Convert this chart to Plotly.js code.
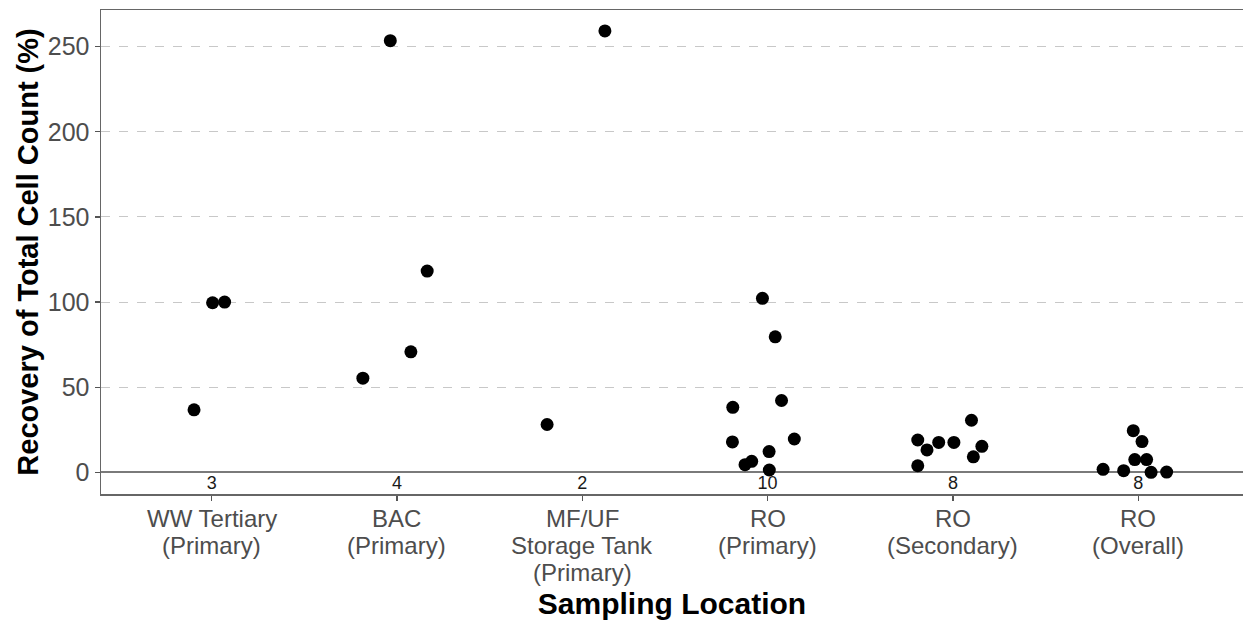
<!DOCTYPE html>
<html>
<head>
<meta charset="utf-8">
<script src="https://cdn.plot.ly/plotly-3.0.1.min.js"></script>
<style>html,body{margin:0;padding:0;background:#fff;}#chart{width:1243px;height:621px;}</style>
</head>
<body>
<div id="chart"></div>
<script>
// Category labels (x axis); "|" separates label lines
var categories = ["WW Tertiary|(Primary)", "BAC|(Primary)", "MF/UF|Storage Tank|(Primary)", "RO|(Primary)", "RO|(Secondary)", "RO|(Overall)"];
// Sample counts shown under each group
var counts = ["3", "4", "2", "10", "8", "8"];
// Y tick values
var yTicks = [0, 50, 100, 150, 200, 250];

// Recovery values (%) per group
var wwTertiary = [36.7, 99.6, 100.0];
var bac = [55.3, 70.8, 118.2, 253.5];
var mfuf = [28.1, 259.2];
var roPrimary = [102.2, 79.6, 42.2, 38.2, 17.9, 19.6, 12.2, 6.5, 4.5, 1.4];
var roSecondary = [19.0, 13.2, 17.6, 17.6, 30.6, 15.3, 9.1, 3.9];
var roOverall = [24.5, 18.1, 7.5, 7.5, 1.8, 1.0, 0.0, 0.2];

// Horizontal jitter of each point (category units)
var jWw = [-0.095, 0.005, 0.07];
var jBac = [-0.184, 0.075, 0.163, -0.036];
var jMfuf = [-0.19, 0.122];
var jRoP = [-0.028, 0.041, 0.075, -0.188, -0.19, 0.144, 0.008, -0.086, -0.122, 0.009];
var jRoS = [-0.19, -0.14, -0.077, 0.005, 0.10, 0.156, 0.11, -0.19];
var jRoO = [-0.027, 0.02, -0.019, 0.045, -0.19, -0.079, 0.069, 0.153];

var countY = -7.2;

var groups = [wwTertiary, bac, mfuf, roPrimary, roSecondary, roOverall];
var jitters = [jWw, jBac, jMfuf, jRoP, jRoS, jRoO];

var xs = [], ys = [];
groups.forEach(function (vals, gi) {
  vals.forEach(function (v, k) {
    xs.push(gi + jitters[gi][k]);
    ys.push(v);
  });
});

var catIdx = categories.map(function (c, i) { return i; });
var FONT = 'Liberation Sans, Arial, sans-serif';

var traces = [
  {
    type: 'scatter', mode: 'markers', x: xs, y: ys,
    marker: {color: '#000000', size: 13, line: {width: 0}},
    hoverinfo: 'y', showlegend: false, cliponaxis: false
  },
  {
    type: 'scatter', mode: 'text', x: catIdx, y: catIdx.map(function () { return countY; }),
    text: counts, textposition: 'middle center',
    textfont: {family: FONT, size: 18, color: '#1a1a1a'},
    hoverinfo: 'skip', showlegend: false
  }
];

// x tick labels drawn line by line (tighter line spacing as in the reference)
var annotations = [];
categories.forEach(function (c, i) {
  c.split('|').forEach(function (line, li) {
    annotations.push({
      x: i, xref: 'x', y: 0, yref: 'paper',
      xanchor: 'center', yanchor: 'middle',
      yshift: -24 - li * 27,
      text: line, showarrow: false,
      font: {family: FONT, size: 24, color: '#4d4d4d'}
    });
  });
});

var layout = {
  width: 1243, height: 621,
  margin: {l: 101, r: 0, t: 10, b: 127},
  paper_bgcolor: '#ffffff', plot_bgcolor: '#ffffff',
  font: {family: FONT, color: '#4d4d4d'},
  annotations: annotations,
  xaxis: {
    range: [-0.597, 5.565],
    tickmode: 'array', tickvals: catIdx, showticklabels: false,
    ticks: 'outside', ticklen: 5, tickwidth: 1.2, tickcolor: '#555555',
    showgrid: false, zeroline: false,
    showline: true, linecolor: '#666666', linewidth: 1.5, mirror: true,
    title: {text: '<b>Sampling Location</b>', font: {size: 30, color: '#000000'}, standoff: 93},
    automargin: false, fixedrange: true
  },
  yaxis: {
    range: [-12.7, 271.5],
    tickmode: 'array', tickvals: yTicks,
    tickfont: {size: 25, color: '#4d4d4d'},
    ticks: 'outside', ticklen: 5, tickwidth: 1.2, tickcolor: '#555555',
    showgrid: true, gridcolor: '#c8c8c8', gridwidth: 1, griddash: 'dash',
    zeroline: true, zerolinecolor: '#7a7a7a', zerolinewidth: 1.8,
    showline: true, linecolor: '#666666', linewidth: 1.5,
    title: {text: '<b>Recovery of Total Cell Count (%)</b>', font: {size: 29, color: '#000000'}, standoff: 0},
    automargin: false, fixedrange: true
  }
};

Plotly.newPlot('chart', traces, layout, {displayModeBar: false, staticPlot: true});
</script>
</body>
</html>
